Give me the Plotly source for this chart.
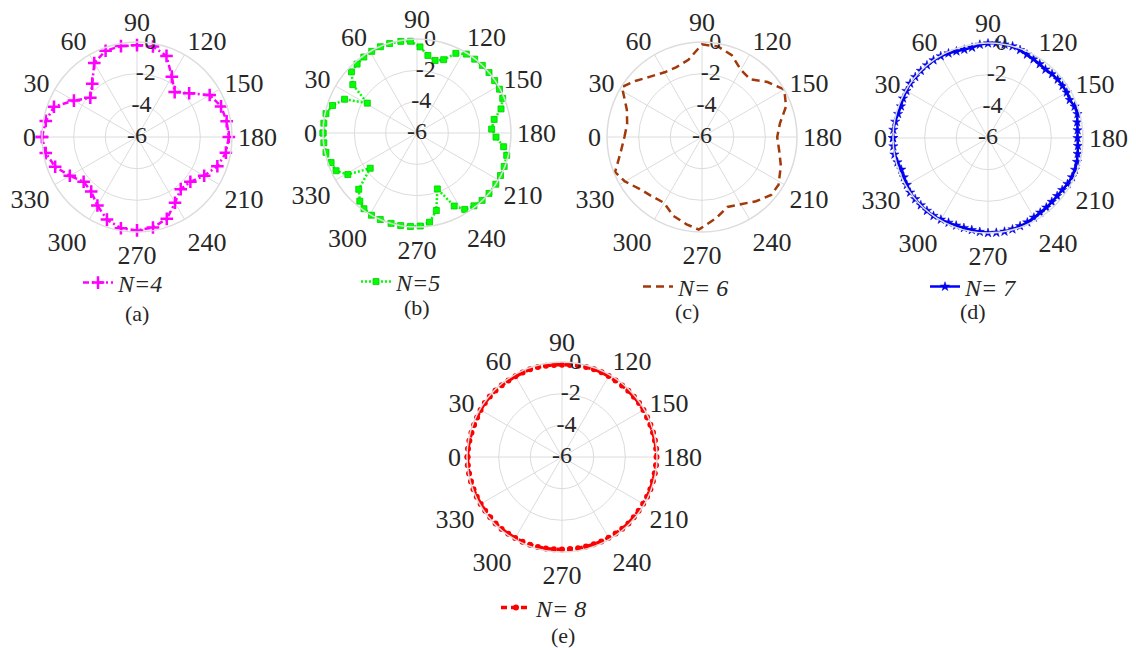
import plotly.graph_objects as go

W, H = 1136, 648
SERIF = "Liberation Serif"
GRID = "#DCDCDC"
TXT = "#262626"

# ---- (a) N=4 ----
theta_a = [0, 10, 20, 30, 40, 50, 60, 70, 80, 90, 100, 110, 120, 130, 140, 150, 160, 170,
           180, 190, 200, 210, 220, 230, 240, 250, 260, 270, 280, 290, 300, 310, 320, 330, 340, 350, 360]
r_a = [0.0, -0.15, -0.42, -1.4, -2.15, -1.6, -0.6, -0.2, -0.17, -0.2, -0.2, -0.55, -1.6, -2.3,
       -1.7, -0.7, -0.35, -0.25, -0.2, -0.3, -0.6, -1.1, -1.6, -1.7, -1.2, -0.5, -0.2, -0.1,
       -0.15, -0.45, -1.0, -1.5, -1.6, -1.1, -0.5, -0.15, 0.0]

# ---- (b) N=5 ----
theta_b = [0, 6, 12, 18, 25, 31, 37, 43, 49, 55, 61, 67, 73, 80, 86, 92, 98, 104, 110, 116,
           122, 128, 134, 140, 146, 152, 158, 164, 170, 177, 183, 189, 194, 201, 207, 213, 220,
           226, 232, 238, 243, 250, 256, 262, 268, 274, 280, 286, 293, 299, 305, 310, 316, 323,
           329, 335, 341, 348, 354, 360]
r_b = [0.0, -0.02, -0.06, -0.33, -0.9, -2.3, -0.87, -0.28, -0.17, -0.08, -0.04, -0.02, -0.03,
       -0.06, -0.13, -0.5, -1.0, -1.23, -1.02, -0.34, -0.06, -0.02, 0.0, 0.0, -0.02, -0.04,
       -0.1, -0.42, -1.0, -1.23, -0.95, -0.4, -0.1, -0.04, -0.02, 0.0, 0.0, -0.02, -0.1, -0.25,
       -0.77, -2.2, -0.9, -0.25, -0.06, -0.02, 0.0, 0.0, 0.0, 0.0, -0.1, -0.32, -0.83, -2.26,
       -0.85, -0.3, -0.2, -0.06, -0.02, 0.0]

# ---- (c) N=6 ----
theta_c = [0, 10, 20, 32, 40, 50, 60, 70, 80, 90, 100, 110, 120, 130, 140, 150, 160, 170,
           180, 190, 200, 212, 220, 230, 240, 250, 260, 272, 280, 290, 300, 310, 320, 330, 338, 350, 360]
r_c = [-1.1, -1.2, -0.95, -0.04, -0.5, -1.0, -1.28, -1.3, -1.05, -0.15, -0.2, -0.5, -1.1,
       -1.25, -0.6, 0.0, -0.35, -1.0, -1.25, -1.05, -0.7, -0.3, -0.3, -0.7, -1.1, -1.3, -0.8,
       -0.15, -0.4, -0.7, -1.2, -1.1, -0.88, -0.38, -0.08, -0.8, -1.1]

# ---- (d) N=7 ----
theta_d = list(range(0, 365, 5))
r_d = [0.0, 0.0, -0.05, -0.12, -0.15, -0.08, -0.05, 0.0, 0.0, 0.0, 0.0, 0.0, -0.03, -0.1,
       -0.17, -0.22, -0.2, -0.08, -0.02, 0.0, 0.0, 0.0, -0.08, -0.18, -0.25, -0.3, -0.35,
       -0.28, -0.25, -0.25, -0.25, -0.3, -0.18, -0.15, -0.28, -0.32, -0.35, -0.3, -0.25,
       -0.18, -0.15, -0.15, -0.2, -0.28, -0.3, -0.3, -0.27, -0.25, -0.2, -0.12, -0.08, -0.03,
       0.0, 0.0, 0.0, -0.05, -0.1, -0.12, -0.12, -0.1, -0.05, 0.0, 0.0, 0.0, 0.0, 0.0, -0.08,
       -0.13, -0.17, -0.08, 0.0, 0.0, 0.0]

# ---- (e) N=8 ----
theta_e = list(range(0, 365, 5))
r_e = [-0.03, -0.04, -0.06, -0.08, -0.09, -0.08, -0.06, -0.05, -0.05, -0.06, -0.08, -0.1,
       -0.12, -0.12, -0.11, -0.12, -0.14, -0.16, -0.17, -0.16, -0.14, -0.12, -0.1, -0.09,
       -0.1, -0.11, -0.1, -0.08, -0.07, -0.06, -0.06, -0.07, -0.06, -0.05, -0.04, -0.03,
       -0.03, -0.04, -0.05, -0.06, -0.06, -0.07, -0.08, -0.09, -0.08, -0.07, -0.08, -0.1,
       -0.11, -0.12, -0.13, -0.14, -0.15, -0.16, -0.16, -0.15, -0.13, -0.11, -0.1, -0.1,
       -0.09, -0.08, -0.07, -0.07, -0.08, -0.08, -0.07, -0.06, -0.05, -0.05, -0.04, -0.03, -0.03]

angle_ticks = list(range(0, 360, 30))
angle_labels = [str(a) for a in angle_ticks]
radial_ticks = [-6, -4, -2, 0]
radial_labels = ["-6", "-4", "-2", "0"]
legend_names = ["<i>N=4</i>", "<i>N=5</i>", "<i>N= 6</i>", "<i>N= 7</i>", "<i>N= 8</i>"]
captions = ["(a)", "(b)", "(c)", "(d)", "(e)"]

# panel placement in pixels: centre x, centre y, radius
panels = [(137, 137, 95), (417, 133, 94), (702, 137, 95), (988, 138, 95), (562, 457, 95)]
# legend sample start (x, y) and caption centre (x, y) in pixels
legend_pos = [(80, 283), (358, 282), (640, 287), (927, 287), (498, 608)]
caption_pos = [(137, 313), (417, 307), (687, 312), (973, 312), (563, 635)]

styles = [
    dict(line=dict(color="#FF00FF", width=2.5, dash="6px,3px,2px,3px"),
         marker=dict(symbol="cross-thin", size=9, line=dict(width=2.5, color="#FF00FF"))),
    dict(line=dict(color="#00FF00", width=2.5, dash="2px,2px"),
         marker=dict(symbol="square", size=6, color="#00FF00",
                     line=dict(width=0.8, color="#00CC00"))),
    dict(line=dict(color="#A3390B", width=2.5, dash="8px,5px"), marker=dict(size=1)),
    dict(line=dict(color="#0000FF", width=2.5),
         marker=dict(symbol="star", size=7, color="#0000FF",
                     line=dict(width=0.5, color="#0000CC"))),
    dict(line=dict(color="#FF0000", width=3.5, dash="6px,4px"),
         marker=dict(symbol="circle", size=6, color="#FF0000", line=dict(width=0))),
]
modes = ["lines+markers", "lines+markers", "lines", "lines+markers", "lines+markers"]
series = [(theta_a, r_a), (theta_b, r_b), (theta_c, r_c), (theta_d, r_d), (theta_e, r_e)]

fig = go.Figure()
layout = dict(width=W, height=H, margin=dict(l=0, r=0, t=0, b=0),
              paper_bgcolor="white", plot_bgcolor="white", annotations=[])

for i, ((th, rr), (cx, cy, rad)) in enumerate(zip(series, panels)):
    pname = "polar" if i == 0 else f"polar{i + 1}"
    lname = "legend" if i == 0 else f"legend{i + 1}"
    fig.add_trace(go.Scatterpolar(
        theta=th, r=rr, mode=modes[i], name=legend_names[i],
        subplot=pname, legend=lname, hoverinfo="skip", **styles[i]))
    # radial tick labels, set just right of the 90-degree spoke
    fig.add_trace(go.Scatterpolar(
        theta=[98] * len(radial_ticks), r=radial_ticks, text=radial_labels,
        mode="text", textposition="middle center", subplot=pname, showlegend=False,
        textfont=dict(family=SERIF, size=24, color=TXT), hoverinfo="skip"))

    layout[pname] = dict(
        domain=dict(x=[(cx - rad) / W, (cx + rad) / W],
                    y=[1 - (cy + rad) / H, 1 - (cy - rad) / H]),
        bgcolor="white",
        angularaxis=dict(rotation=180, direction="clockwise", tickmode="array",
                         tickvals=angle_ticks, ticktext=angle_labels, ticks="",
                         showgrid=True, gridcolor=GRID, gridwidth=1,
                         showline=True, linecolor=GRID, linewidth=1.5,
                         tickfont=dict(family=SERIF, size=26, color=TXT)),
        radialaxis=dict(range=[-6, 0], tickvals=radial_ticks, showticklabels=False,
                        ticks="", showline=False, showgrid=True, gridcolor=GRID,
                        gridwidth=1, angle=90),
    )
    lx, ly = legend_pos[i]
    layout[lname] = dict(x=(lx - 2) / W, y=1 - ly / H, xanchor="left", yanchor="middle",
                         bgcolor="rgba(0,0,0,0)", borderwidth=0,
                         font=dict(family=SERIF, size=24, color=TXT),
                         tracegroupgap=0)
    qx, qy = caption_pos[i]
    layout["annotations"].append(dict(
        text=captions[i], x=qx / W, y=1 - qy / H, xref="paper", yref="paper",
        showarrow=False, xanchor="center", yanchor="middle",
        font=dict(family=SERIF, size=22, color=TXT)))

fig.update_layout(**layout)
fig.write_html("out.html")
